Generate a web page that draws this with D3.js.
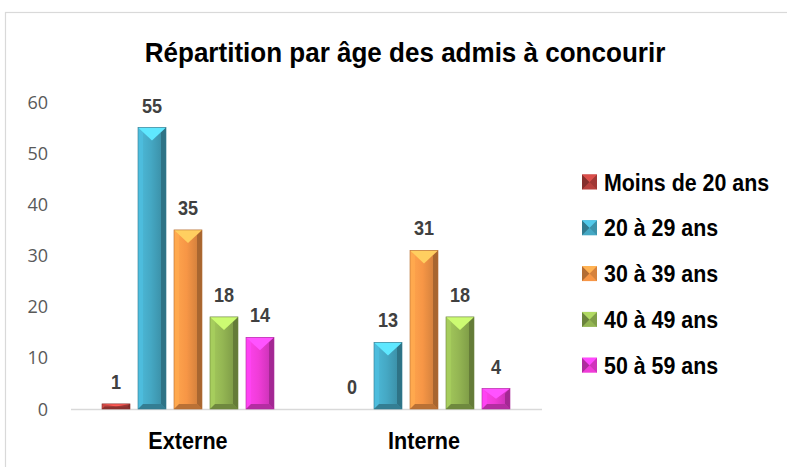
<!DOCTYPE html>
<html lang="fr">
<head>
<meta charset="utf-8">
<title>Répartition par âge</title>
<script src="https://cdn.jsdelivr.net/npm/d3@7/dist/d3.min.js"></script>
<style>
  body { margin: 0; background: #fff; }
</style>
</head>
<body>
<script>
// data
var groups = ["Externe", "Interne"];
var series = ["Moins de 20 ans", "20 à 29 ans", "30 à 39 ans", "40 à 49 ans", "50 à 59 ans"];
var externe = [1, 55, 35, 18, 14];
var interne = [0, 13, 31, 18, 4];
var yTicks = [0, 10, 20, 30, 40, 50, 60];
var colors = ["#b8413e", "#45a8c4", "#f79646", "#94b653", "#f03cd8"];

var values = [externe, interne];
var W = 787, H = 467;
var boldFont = "'Liberation Sans', Arial, sans-serif";

var svg = d3.select("body").append("svg")
  .attr("width", W).attr("height", H);

var defs = svg.append("defs");

// condensed bold text: drawn at (x,y) and squeezed horizontally
function narrowText(parent, x, y, str, size, sx, anchor, fill) {
  return parent.append("text")
    .attr("transform", "translate(" + x + "," + y + ") scale(" + sx + ",1)")
    .attr("text-anchor", anchor)
    .style("font-family", boldFont)
    .style("font-weight", "bold")
    .style("font-size", size + "px")
    .style("fill", fill)
    .text(str);
}

// chart border
svg.append("rect")
  .attr("x", 5.5).attr("y", 12.5)
  .attr("width", 800).attr("height", 480)
  .attr("fill", "#fff").attr("stroke", "#d9d9d9").attr("stroke-width", 1.2);

// title
narrowText(svg, 405, 62, "Répartition par âge des admis à concourir", 28, 0.93, "middle", "#000");

var x0 = d3.scaleBand().domain(groups).range([70, 542]);
var x1 = d3.scaleBand().domain(d3.range(series.length))
  .range([32, 204]).paddingInner(0.222);
var y = d3.scaleLinear().domain([0, 60]).range([409, 102]);

// y tick labels
svg.append("g").selectAll("text")
  .data(yTicks).enter().append("text")
  .attr("x", 48)
  .attr("y", d => y(d) + 6.5)
  .attr("text-anchor", "end")
  .style("font-family", "'Open Sans', 'Noto Sans', sans-serif")
  .style("font-size", "18px")
  .style("fill", "#595959")
  .text(d => d);

// baseline
svg.append("line")
  .attr("x1", 71).attr("x2", 542)
  .attr("y1", y(0) + 0.5).attr("y2", y(0) + 0.5)
  .attr("stroke", "#d9d9d9").attr("stroke-width", 1.5);

// category labels
groups.forEach(function (g) {
  narrowText(svg, x0(g) + x0.bandwidth() / 2, 449, g, 23.5, 0.92, "middle", "#000");
});

// gradient per colour (left lighter, right darker)
colors.forEach(function (c, i) {
  var g = defs.append("linearGradient").attr("id", "grad" + i)
    .attr("x1", "0").attr("x2", "1").attr("y1", "0").attr("y2", "0");
  g.append("stop").attr("offset", "0%").attr("stop-color", d3.color(c).brighter(0.3));
  g.append("stop").attr("offset", "45%").attr("stop-color", c);
  g.append("stop").attr("offset", "100%").attr("stop-color", d3.color(c).darker(0.6));
});

function bevelBar(g, x, top, w, bottom, i) {
  var c = colors[i];
  var h = bottom - top;
  if (h <= 0) return;
  var b = Math.min(5, h / 2, w / 2);
  var v = Math.min(13, h / 2);
  g.append("rect").attr("x", x).attr("y", top).attr("width", w).attr("height", h)
    .attr("fill", "url(#grad" + i + ")");
  // left strip
  g.append("polygon")
    .attr("points", [[x, top], [x + b, top + b], [x + b, bottom - b], [x, bottom]].join(" "))
    .attr("fill", d3.color(c).brighter(0.35)).attr("opacity", 0.8);
  // right strip
  g.append("polygon")
    .attr("points", [[x + w, top], [x + w - b, top + b], [x + w - b, bottom - b], [x + w, bottom]].join(" "))
    .attr("fill", d3.color(c).darker(1.2)).attr("opacity", 0.85);
  // top chevron
  g.append("polygon")
    .attr("points", [[x, top], [x + w, top], [x + w / 2, top + v]].join(" "))
    .attr("fill", d3.color(c).brighter(0.9));
  // bottom bevel
  g.append("polygon")
    .attr("points", [[x, bottom], [x + b, bottom - b], [x + w - b, bottom - b], [x + w, bottom]].join(" "))
    .attr("fill", d3.color(c).darker(0.8));
  g.append("rect").attr("x", x).attr("y", top).attr("width", w).attr("height", h)
    .attr("fill", "none").attr("stroke", d3.color(c).darker(0.9)).attr("stroke-width", 0.6);
}

var bars = svg.append("g");
groups.forEach(function (grp, gi) {
  values[gi].forEach(function (v, si) {
    var bx = x0(grp) + x1(si);
    bevelBar(bars, bx, y(v), x1.bandwidth(), y(0), si);
    narrowText(bars, bx + x1.bandwidth() / 2, y(v) - 15, String(v), 21, 0.86, "middle", "#404040");
  });
});

// legend
var leg = svg.append("g").selectAll("g")
  .data(series).enter().append("g")
  .attr("transform", (d, i) => "translate(582," + (182 + i * 45.8) + ")");

leg.each(function (d, i) {
  var g = d3.select(this);
  var c = colors[i], s = 15;
  g.append("rect").attr("x", 0).attr("y", -s / 2).attr("width", s).attr("height", s).attr("fill", c);
  g.append("polygon").attr("points", [[0, -s / 2], [s / 2, 0], [0, s / 2]].join(" "))
    .attr("fill", d3.color(c).darker(0.9));
  g.append("polygon").attr("points", [[s, -s / 2], [s / 2, 0], [s, s / 2]].join(" "))
    .attr("fill", d3.color(c).darker(0.4));
  g.append("polygon").attr("points", [[0, -s / 2], [s, -s / 2], [s / 2, 0]].join(" "))
    .attr("fill", d3.color(c).brighter(0.5));
  narrowText(g, 22, 8.5, d, 23.5, 0.91, "start", "#000");
});
</script>
</body>
</html>
